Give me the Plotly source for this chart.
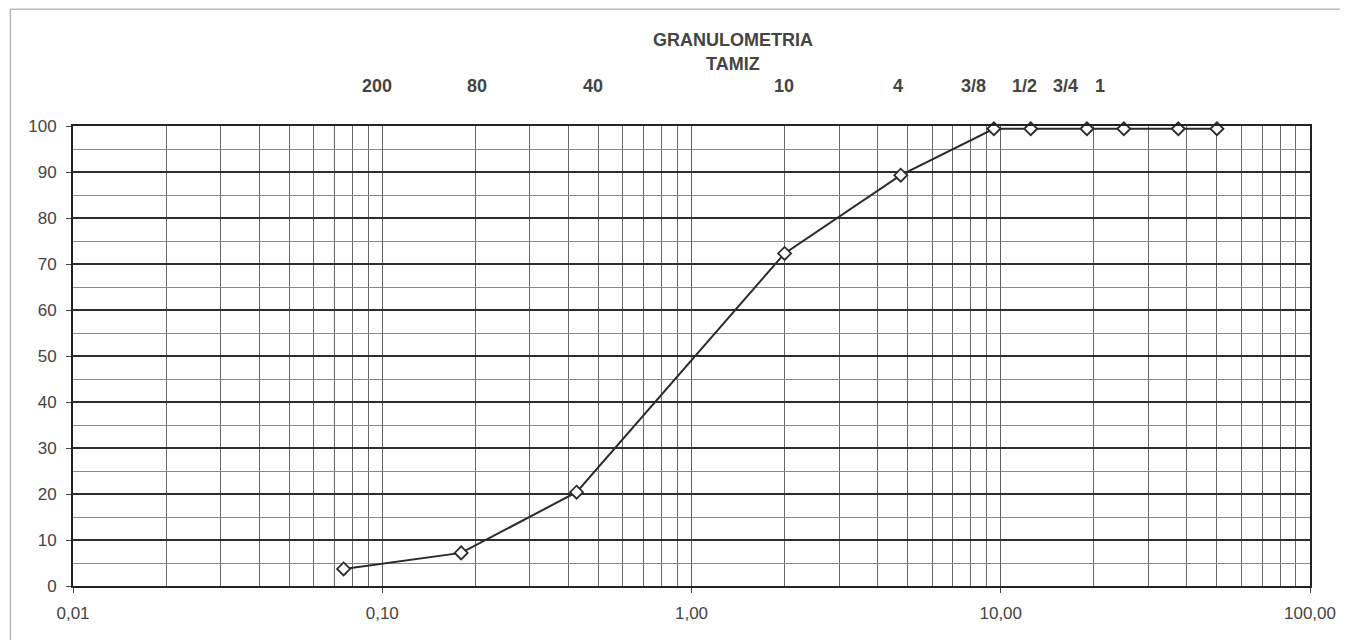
import plotly.graph_objects as go

# ---- data ----
aperture_mm = [0.075, 0.18, 0.425, 2.0, 4.75, 9.5, 12.5, 19.0, 25.0, 37.5, 50.0]
passing_pct = [3.7, 7.2, 20.4, 72.3, 89.3, 99.4, 99.4, 99.4, 99.4, 99.4, 99.4]

x_tick_vals = [0.01, 0.1, 1, 10, 100]
x_tick_text = ["0,01", "0,10", "1,00", "10,00", "100,00"]
y_tick_vals = list(range(0, 101, 10))

sieve_labels = ["200", "80", "40", "10", "4", "3/8", "1/2", "3/4", "1"]
sieve_label_paper_x = [0.2456, 0.3269, 0.4203, 0.5749, 0.6667, 0.7279, 0.7689, 0.8027, 0.8301]

title_line1 = "GRANULOMETRIA"
title_line2 = "TAMIZ"

# minor log grid positions (2..9 within each decade)
minor_x = [m * d for d in [0.01, 0.1, 1, 10] for m in range(2, 10)]

FONT = "Liberation Sans, Arial, sans-serif"

fig = go.Figure()
fig.add_trace(go.Scatter(
    x=aperture_mm, y=passing_pct, mode="lines+markers",
    line=dict(color="#2b2b2b", width=2),
    marker=dict(symbol="diamond", size=10, color="white",
                line=dict(color="#2b2b2b", width=1.8)),
    showlegend=False, cliponaxis=False,
))

fig.update_layout(
    width=1340, height=632,
    margin=dict(l=65, r=30, t=118, b=54),
    paper_bgcolor="white", plot_bgcolor="white",
    font=dict(family=FONT, size=17, color="#444444"),
    xaxis=dict(
        type="log", range=[-2, 2],
        tickmode="array", tickvals=x_tick_vals, ticktext=x_tick_text,
        ticks="outside", ticklen=5, tickcolor="#444",
        ticklabelstandoff=6,
        showgrid=True, gridcolor="#606060", gridwidth=1,
        minor=dict(tickmode="array", tickvals=minor_x, showgrid=True,
                   gridcolor="#6a6a6a", gridwidth=1, ticks=""),
        showline=True, linecolor="#222", linewidth=2, mirror=True,
        zeroline=False, tickfont=dict(size=17, color="#444"),
    ),
    yaxis=dict(
        range=[0, 100],
        tickmode="array", tickvals=y_tick_vals,
        ticks="outside", ticklen=5, tickcolor="#444",
        ticklabelstandoff=6,
        showgrid=True, gridcolor="#2e2e2e", gridwidth=2,
        minor=dict(dtick=5, showgrid=True, gridcolor="#8a8a8a", gridwidth=1, ticks=""),
        showline=True, linecolor="#222", linewidth=2, mirror=True,
        zeroline=False, tickfont=dict(size=17, color="#444"),
    ),
)

# pink minor grid line at 0.07
fig.add_shape(type="line", xref="x", yref="paper", x0=0.07, x1=0.07, y0=0, y1=1,
              line=dict(color="#f2a0a8", width=1), layer="below")

# outer chart frame (scanned border)
fig.add_shape(type="rect", xref="paper", yref="paper",
              x0=-0.0507, x1=1.1, y0=-0.2, y1=1.254,
              line=dict(color="#9a9a9a", width=1))

fig.add_annotation(text="<b>%s</b>" % title_line1, xref="paper", yref="paper",
                   x=0.5338, y=1.187, xanchor="center", yanchor="middle",
                   showarrow=False, font=dict(size=18, color="#444"))
fig.add_annotation(text="<b>%s</b>" % title_line2, xref="paper", yref="paper",
                   x=0.5338, y=1.135, xanchor="center", yanchor="middle",
                   showarrow=False, font=dict(size=18, color="#444"))
for lbl, px in zip(sieve_labels, sieve_label_paper_x):
    fig.add_annotation(text="<b>%s</b>" % lbl, xref="paper", yref="paper",
                       x=px, y=1.087, xanchor="center", yanchor="middle",
                       showarrow=False, font=dict(size=18, color="#444"))

fig.write_html("out.html")
